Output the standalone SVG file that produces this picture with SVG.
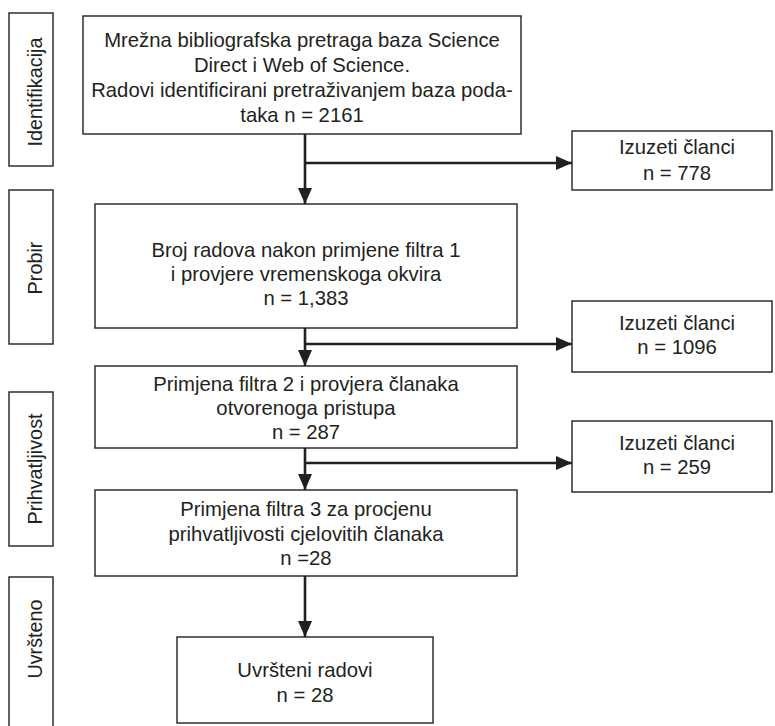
<svg xmlns="http://www.w3.org/2000/svg" width="775" height="726" viewBox="0 0 775 726">
<style>
.box{fill:#fff;stroke:#231f20;stroke-width:1.4}
.t{font-family:"Liberation Sans",Arial,sans-serif;font-size:20.3px;fill:#231f20;text-anchor:middle}
.s{font-family:"Liberation Sans",Arial,sans-serif;font-size:19.8px;fill:#231f20;text-anchor:middle}
.c{fill:none;stroke:#231f20;stroke-width:2.6}
</style>
<defs>
<marker id="ah" markerUnits="userSpaceOnUse" markerWidth="18" markerHeight="14" refX="16" refY="7" orient="auto">
<path d="M0,0 L16,7 L0,14 Z" fill="#231f20"/>
</marker>
</defs>
<rect width="775" height="726" fill="#fff"/>
<g id="stage-identifikacija">
<rect class="box" x="9" y="13" width="44" height="153"/>
<text class="s" transform="translate(41.5,92) rotate(-90)">Identifikacija</text>
</g>
<g id="stage-probir">
<rect class="box" x="9" y="190" width="44" height="154"/>
<text class="s" transform="translate(41.5,268) rotate(-90)">Probir</text>
</g>
<g id="stage-prihvatljivost">
<rect class="box" x="9" y="392" width="44" height="154"/>
<text class="s" transform="translate(41.5,469) rotate(-90)">Prihvatljivost</text>
</g>
<g id="stage-uvrsteno">
<rect class="box" x="9" y="577" width="44" height="160"/>
<text class="s" transform="translate(41.5,639) rotate(-90)">Uvršteno</text>
</g>
<g id="connectors">
<line class="c" x1="305" y1="134" x2="305" y2="204" marker-end="url(#ah)"/>
<line class="c" x1="305" y1="163" x2="572" y2="163" marker-end="url(#ah)"/>
<line class="c" x1="305" y1="328" x2="305" y2="366" marker-end="url(#ah)"/>
<line class="c" x1="305" y1="344" x2="572" y2="344" marker-end="url(#ah)"/>
<line class="c" x1="305" y1="448" x2="305" y2="490" marker-end="url(#ah)"/>
<line class="c" x1="305" y1="463" x2="572" y2="463" marker-end="url(#ah)"/>
<line class="c" x1="305" y1="576" x2="305" y2="637" marker-end="url(#ah)"/>
</g>
<g id="n1">
<rect class="box" x="83" y="16" width="438" height="118"/>
<text class="t" x="302" y="47">Mrežna bibliografska pretraga baza Science</text>
<text class="t" x="302" y="72">Direct i Web of Science.</text>
<text class="t" x="302" y="97">Radovi identificirani pretraživanjem baza poda-</text>
<text class="t" x="302" y="122">taka n = 2161</text>
</g>
<g id="x1">
<rect class="box" x="572" y="131" width="200" height="59"/>
<text class="t" x="677" y="154">Izuzeti članci</text>
<text class="t" x="677" y="180">n = 778</text>
</g>
<g id="n2">
<rect class="box" x="95" y="204" width="422" height="124"/>
<text class="t" x="306" y="257">Broj radova nakon primjene filtra 1</text>
<text class="t" x="306" y="281">i provjere vremenskoga okvira</text>
<text class="t" x="306" y="305">n = 1,383</text>
</g>
<g id="x2">
<rect class="box" x="572" y="301" width="200" height="71"/>
<text class="t" x="677" y="330">Izuzeti članci</text>
<text class="t" x="677" y="354">n = 1096</text>
</g>
<g id="n3">
<rect class="box" x="95" y="366" width="422" height="82"/>
<text class="t" x="306" y="391">Primjena filtra 2 i provjera članaka</text>
<text class="t" x="306" y="415">otvorenoga pristupa</text>
<text class="t" x="306" y="439">n = 287</text>
</g>
<g id="x3">
<rect class="box" x="572" y="421" width="200" height="71"/>
<text class="t" x="677" y="450">Izuzeti članci</text>
<text class="t" x="677" y="474">n = 259</text>
</g>
<g id="n4">
<rect class="box" x="95" y="490" width="422" height="86"/>
<text class="t" x="306" y="516">Primjena filtra 3 za procjenu</text>
<text class="t" x="306" y="541">prihvatljivosti cjelovitih članaka</text>
<text class="t" x="306" y="565">n =28</text>
</g>
<g id="n5">
<rect class="box" x="177" y="637" width="256" height="86"/>
<text class="t" x="305" y="677">Uvršteni radovi</text>
<text class="t" x="305" y="702">n = 28</text>
</g>
</svg>
